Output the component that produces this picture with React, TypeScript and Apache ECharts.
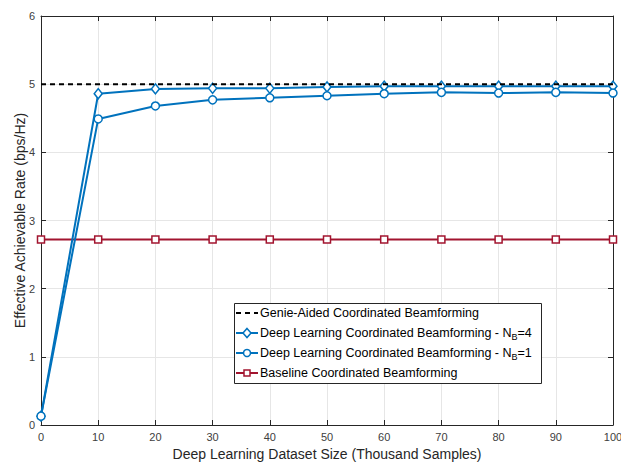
import React, { useEffect, useRef } from "react";
import * as echarts from "echarts";

const datasetSizes = [0, 10, 20, 30, 40, 50, 60, 70, 80, 90, 100];
const genieValues = [5.0, 5.0, 5.0, 5.0, 5.0, 5.0, 5.0, 5.0, 5.0, 5.0, 5.0];
const dlNB4Values = [0.13, 4.86, 4.93, 4.94, 4.94, 4.96, 4.97, 4.97, 4.97, 4.97, 4.97];
const dlNB1Values = [0.13, 4.49, 4.68, 4.77, 4.8, 4.83, 4.86, 4.88, 4.87, 4.88, 4.87];
const baselineValues = [2.72, 2.72, 2.72, 2.72, 2.72, 2.72, 2.72, 2.72, 2.72, 2.72, 2.72];
const xTicks = [0, 10, 20, 30, 40, 50, 60, 70, 80, 90, 100];
const yTicks = [0, 1, 2, 3, 4, 5, 6];

const BLUE = "#0072BD";
const RED = "#A2142F";
const FONT = "Liberation Sans, Arial, Helvetica, sans-serif";

const pairs = (vals: number[]) => datasetSizes.map((x, i) => [x, vals[i]]);

export default function App() {
  const ref = useRef<HTMLDivElement>(null);
  useEffect(() => {
    if (!ref.current) return;
    const chart = echarts.init(ref.current, undefined, { renderer: "svg" });
    const axisCommon = {
      axisLine: { show: true, onZero: false, lineStyle: { color: "#262626", width: 1 } },
      axisTick: { show: true, inside: true, length: 5, lineStyle: { color: "#262626" } },
    };
    const lx = 236;
    const ly = [313, 333, 353, 373];
    const LFS = 12.5;
    const textStyle = { fontFamily: FONT, fontSize: LFS, fill: "#000" };
    const rich = {
      a: { fontFamily: FONT, fontSize: LFS, fill: "#000" },
      s: { fontFamily: FONT, fontSize: 9, fill: "#000", padding: [7, 0, 0, 0] },
    };
    const legendGraphic: any[] = [
      {
        type: "rect",
        shape: { x: 234.5, y: 303.5, width: 307, height: 80 },
        style: { fill: "#fff", stroke: "#262626", lineWidth: 1 },
        z: 100,
      },
      {
        type: "line",
        shape: { x1: lx, y1: ly[0], x2: lx + 22, y2: ly[0] },
        style: { stroke: "#000", lineWidth: 2, lineDash: [5, 4] },
        z: 101,
      },
      {
        type: "line",
        shape: { x1: lx, y1: ly[1], x2: lx + 22, y2: ly[1] },
        style: { stroke: BLUE, lineWidth: 2 },
        z: 101,
      },
      {
        type: "polygon",
        shape: { points: [[lx + 11, ly[1] - 4.5], [lx + 15, ly[1]], [lx + 11, ly[1] + 4.5], [lx + 7, ly[1]]] },
        style: { fill: "#fff", stroke: BLUE, lineWidth: 1.5 },
        z: 102,
      },
      {
        type: "line",
        shape: { x1: lx, y1: ly[2], x2: lx + 22, y2: ly[2] },
        style: { stroke: BLUE, lineWidth: 2 },
        z: 101,
      },
      {
        type: "circle",
        shape: { cx: lx + 11, cy: ly[2], r: 3.5 },
        style: { fill: "#fff", stroke: BLUE, lineWidth: 1.5 },
        z: 102,
      },
      {
        type: "line",
        shape: { x1: lx, y1: ly[3], x2: lx + 22, y2: ly[3] },
        style: { stroke: RED, lineWidth: 2 },
        z: 101,
      },
      {
        type: "rect",
        shape: { x: lx + 8, y: ly[3] - 3, width: 6, height: 6 },
        style: { fill: "#fff", stroke: RED, lineWidth: 1.5 },
        z: 102,
      },
      {
        type: "text",
        x: 260,
        y: ly[0],
        style: { ...textStyle, text: "Genie-Aided Coordinated Beamforming", verticalAlign: "middle" },
        z: 102,
      },
      {
        type: "text",
        x: 260,
        y: ly[1],
        style: {
          ...textStyle,
          text: "{a|Deep Learning Coordinated Beamforming - N}{s|B}{a|=4}",
          verticalAlign: "middle",
          rich,
        },
        z: 102,
      },
      {
        type: "text",
        x: 260,
        y: ly[2],
        style: {
          ...textStyle,
          text: "{a|Deep Learning Coordinated Beamforming - N}{s|B}{a|=1}",
          verticalAlign: "middle",
          rich,
        },
        z: 102,
      },
      {
        type: "text",
        x: 260,
        y: ly[3],
        style: { ...textStyle, text: "Baseline Coordinated Beamforming", verticalAlign: "middle" },
        z: 102,
      },
    ];

    chart.setOption({
      animation: false,
      backgroundColor: "#fff",
      grid: { left: 41, right: 8, top: 16, bottom: 38, containLabel: false, outerBoundsMode: "none" },
      xAxis: [
        {
          type: "value",
          min: 0,
          max: 100,
          interval: 10,
          position: "bottom",
          ...axisCommon,
          axisLabel: { color: "#404040", fontSize: 11, fontFamily: FONT, margin: 6, customValues: xTicks },
          splitLine: { show: true, lineStyle: { color: "#e6e6e6" } },
          name: "Deep Learning Dataset Size (Thousand Samples)",
          nameLocation: "middle",
          nameGap: 18,
          nameTextStyle: { color: "#262626", fontSize: 14, fontFamily: FONT },
        },
        {
          type: "value",
          min: 0,
          max: 100,
          interval: 10,
          position: "top",
          ...axisCommon,
          axisLabel: { show: false },
          splitLine: { show: false },
        },
      ],
      yAxis: [
        {
          type: "value",
          min: 0,
          max: 6,
          interval: 1,
          position: "left",
          ...axisCommon,
          axisLabel: { color: "#404040", fontSize: 11, fontFamily: FONT, margin: 6, customValues: yTicks },
          splitLine: { show: true, lineStyle: { color: "#e6e6e6" } },
          name: "Effective Achievable Rate (bps/Hz)",
          nameLocation: "middle",
          nameGap: 14,
          nameMoveOverlap: false,
          nameTextStyle: { color: "#262626", fontSize: 14, fontFamily: FONT },
        },
        {
          type: "value",
          min: 0,
          max: 6,
          interval: 1,
          position: "right",
          ...axisCommon,
          axisLabel: { show: false },
          splitLine: { show: false },
        },
      ],
      series: [
        {
          name: "Genie-Aided Coordinated Beamforming",
          type: "line",
          data: pairs(genieValues),
          symbol: "none",
          lineStyle: { color: "#000", width: 2, type: [5, 4] },
          z: 5,
        },
        {
          name: "Deep Learning Coordinated Beamforming - NB=4",
          type: "line",
          data: pairs(dlNB4Values),
          symbol: "diamond",
          symbolSize: [8, 10],
          itemStyle: { color: "#fff", borderColor: BLUE, borderWidth: 1.5 },
          lineStyle: { color: BLUE, width: 2 },
          z: 4,
        },
        {
          name: "Deep Learning Coordinated Beamforming - NB=1",
          type: "line",
          data: pairs(dlNB1Values),
          symbol: "circle",
          symbolSize: 8,
          itemStyle: { color: "#fff", borderColor: BLUE, borderWidth: 1.5 },
          lineStyle: { color: BLUE, width: 2 },
          z: 4,
        },
        {
          name: "Baseline Coordinated Beamforming",
          type: "line",
          data: pairs(baselineValues),
          symbol: "rect",
          symbolSize: 7,
          itemStyle: { color: "#fff", borderColor: RED, borderWidth: 1.5 },
          lineStyle: { color: RED, width: 2 },
          z: 3,
        },
      ],
      graphic: legendGraphic,
    });
    return () => chart.dispose();
  }, []);
  return <div ref={ref} style={{ position: "fixed", left: 0, top: 0, width: 621, height: 463 }} />;
}
